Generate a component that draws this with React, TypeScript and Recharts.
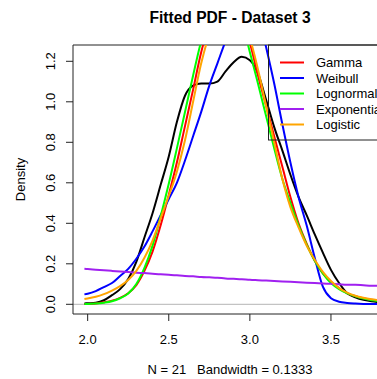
import React from 'react';
import { LineChart, Line, XAxis, YAxis, ReferenceLine } from 'recharts';

// x grid shared by every curve
const xs = [1.98, 2.0, 2.05, 2.1, 2.15, 2.2, 2.25, 2.3, 2.35, 2.4, 2.45, 2.5, 2.55, 2.6, 2.65, 2.7, 2.75, 2.8, 2.85, 2.9,
    2.95, 3.0, 3.05, 3.1, 3.15, 3.2, 3.25, 3.3, 3.35, 3.4, 3.45, 3.5, 3.55, 3.6, 3.65, 3.7, 3.75, 3.8];

const density = [0.004, 0.005, 0.008, 0.02, 0.045, 0.075, 0.125, 0.21, 0.33, 0.45, 0.59, 0.73, 0.9, 1.03, 1.08, 1.09, 1.09, 1.1, 1.15, 1.195,
    1.222, 1.205, 1.14, 1.01, 0.875, 0.76, 0.64, 0.53, 0.44, 0.345, 0.255, 0.17, 0.105, 0.055, 0.035, 0.022, 0.015, 0.01];
const gamma = [0.001, 0.002, 0.004, 0.01, 0.018, 0.032, 0.055, 0.095, 0.165, 0.26, 0.39, 0.54, 0.7, 0.88, 1.06, 1.245, 1.38, 1.46, 1.49, 1.46,
    1.39, 1.29, 1.13, 0.98, 0.83, 0.68, 0.53, 0.4, 0.3, 0.215, 0.153, 0.11, 0.08, 0.054, 0.04, 0.03, 0.022, 0.017];
const weibull = [0.049, 0.052, 0.065, 0.085, 0.105, 0.14, 0.175, 0.225, 0.285, 0.36, 0.44, 0.52, 0.6, 0.71, 0.83, 0.95, 1.08, 1.19, 1.3, 1.4,
    1.48, 1.52, 1.44, 1.27, 1.09, 0.89, 0.7, 0.53, 0.39, 0.23, 0.087, 0.03, 0.013, 0.007, 0.004, 0.002, 0.001, 0.001];
const lognormal = [0.001, 0.002, 0.004, 0.008, 0.015, 0.03, 0.053, 0.1, 0.18, 0.29, 0.435, 0.595, 0.77, 0.95, 1.13, 1.3, 1.43, 1.5, 1.52, 1.49,
    1.4, 1.245, 1.09, 0.93, 0.77, 0.62, 0.5, 0.39, 0.295, 0.215, 0.153, 0.105, 0.075, 0.054, 0.04, 0.028, 0.02, 0.015];
const exponential = [0.175, 0.174, 0.171, 0.168, 0.165, 0.162, 0.159, 0.156, 0.154, 0.151, 0.148, 0.146, 0.143, 0.14, 0.138, 0.135, 0.133, 0.131, 0.128, 0.126,
    0.124, 0.121, 0.119, 0.117, 0.115, 0.113, 0.111, 0.109, 0.107, 0.105, 0.103, 0.101, 0.099, 0.097, 0.096, 0.094, 0.092, 0.091];
const logistic = [0.026, 0.029, 0.037, 0.05, 0.068, 0.09, 0.12, 0.165, 0.23, 0.315, 0.425, 0.535, 0.655, 0.81, 1.0, 1.19, 1.33, 1.4, 1.42, 1.41,
    1.37, 1.31, 1.16, 0.98, 0.8, 0.62, 0.48, 0.38, 0.29, 0.22, 0.16, 0.115, 0.08, 0.058, 0.042, 0.032, 0.025, 0.02];

const xTicks = [2.0, 2.5, 3.0, 3.5];
const yTicks = [0.0, 0.2, 0.4, 0.6, 0.8, 1.0, 1.2];

const fits = [
    { key: 'gamma', name: 'Gamma', color: '#FF0000' },
    { key: 'weibull', name: 'Weibull', color: '#0000FF' },
    { key: 'lognormal', name: 'Lognormal', color: '#00FF00' },
    { key: 'exponential', name: 'Exponential', color: '#A020F0' },
    { key: 'logistic', name: 'Logistic', color: '#FFA500' },
];

const data = xs.map((x, i) => ({
    x,
    density: density[i],
    gamma: gamma[i],
    weibull: weibull[i],
    lognormal: lognormal[i],
    exponential: exponential[i],
    logistic: logistic[i],
}));

const FONT = '"Liberation Sans", Arial, sans-serif';

const XTick = (props: any) => (
    <text x={props.x} y={339} textAnchor="middle" dominantBaseline="central" fontSize={13} fill="#000" fontFamily={FONT}>
        {Number(props.payload.value).toFixed(1)}
    </text>
);

const YTick = (props: any) => (
    <text x={51} y={props.y} transform={`rotate(-90, 51, ${props.y})`} textAnchor="middle" dominantBaseline="central"
        fontSize={13} fill="#000" fontFamily={FONT}>
        {Number(props.payload.value).toFixed(1)}
    </text>
);

export default function App() {
    return (
        <div style={{ position: 'absolute', left: 0, top: 0, width: 377, height: 379, background: '#fff', fontFamily: FONT, overflow: 'hidden' }}>
            <LineChart width={377} height={379} data={data} margin={{ top: 45, right: 0, bottom: 0, left: 0 }}>
                <XAxis dataKey="x" type="number" domain={[1.9096, 3.7838]} ticks={xTicks} allowDataOverflow
                    height={65} tickSize={7} tick={<XTick />} stroke="#222" tickLine={{ stroke: '#222' }} />
                <YAxis type="number" domain={[-0.0479, 1.2805]} ticks={yTicks} allowDataOverflow
                    width={73} tickSize={7} tick={<YTick />} stroke="#222" tickLine={{ stroke: '#222' }} />
                <ReferenceLine y={1.2805} stroke="#222" />
                <ReferenceLine y={0} stroke="#b5b5b5" />
                <Line type="monotone" dataKey="density" stroke="#000" strokeWidth={2} dot={false} isAnimationActive={false} />
                {fits.map(f => (
                    <Line key={f.key} type="monotone" dataKey={f.key} name={f.name} stroke={f.color} strokeWidth={2}
                        dot={false} isAnimationActive={false} />
                ))}
            </LineChart>
            <svg width={377} height={379} style={{ position: 'absolute', left: 0, top: 0, pointerEvents: 'none' }}>
                <text x={230} y={17} textAnchor="middle" dominantBaseline="central" fontSize={15.6} fontWeight="bold" fontFamily={FONT}>
                    Fitted PDF - Dataset 3
                </text>
                <text x={230} y={369} textAnchor="middle" dominantBaseline="central" fontSize={13} fontFamily={FONT}
                    style={{ whiteSpace: 'pre' }}>
                    {'N = 21   Bandwidth = 0.1333'}
                </text>
                <text x={20} y={179.5} transform="rotate(-90, 20, 179.5)" textAnchor="middle" dominantBaseline="central"
                    fontSize={13} fontFamily={FONT}>
                    Density
                </text>
                <rect x={268.5} y={45} width={140} height={95} fill="none" stroke="#222" />
                {fits.map((f, i) => (
                    <g key={f.key}>
                        <line x1={280} x2={304} y1={62.5 + i * 15.5} y2={62.5 + i * 15.5} stroke={f.color} strokeWidth={2} />
                        <text x={316} y={62.5 + i * 15.5} dominantBaseline="central" fontSize={13} fontFamily={FONT}>{f.name}</text>
                    </g>
                ))}
            </svg>
        </div>
    );
}
